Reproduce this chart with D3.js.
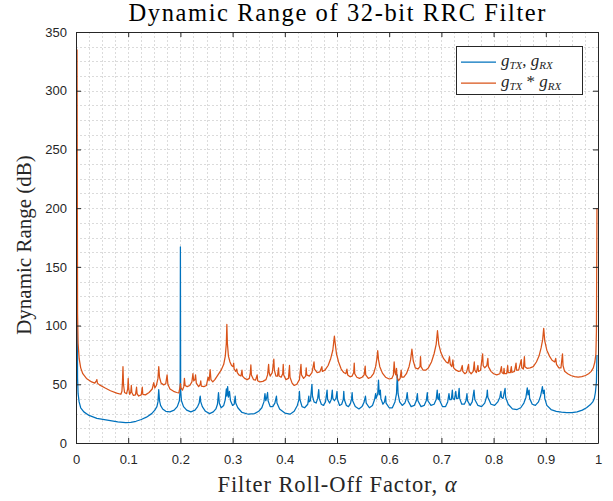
<!DOCTYPE html>
<html><head><meta charset="utf-8">
<script src="https://cdn.jsdelivr.net/npm/d3@7"></script>
<style>body{margin:0;background:#fff}</style>
</head><body><svg id="c" width="613" height="501"></svg>
<script>
const titleText = "Dynamic Range of 32-bit RRC Filter";
const xLabelText = "Filter Roll-Off Factor, ";
const yLabelText = "Dynamic Range (dB)";
const xTicks = [0,0.1,0.2,0.3,0.4,0.5,0.6,0.7,0.8,0.9,1];
const xTickLabels = ["0","0.1","0.2","0.3","0.4","0.5","0.6","0.7","0.8","0.9","1"];
const yTicks = [0,50,100,150,200,250,300,350];
const yTickLabels = ["0","50","100","150","200","250","300","350"];
const seriesColors = ["#0072BD","#D95319"];

// g_TX, g_RX  : [alpha, dB]
const blueData = [
[0.002,163],[0.003,55],[0.004,42],[0.006,35],[0.009,30],[0.015,26.5],[0.025,23.5],[0.04,21],[0.06,19.5],[0.08,18],[0.095,17.3],[0.105,17.5],[0.115,18.5],[0.125,20],[0.135,22],[0.145,25],[0.151,28],[0.155,31],[0.157,35],[0.1585,45.5],[0.16,36],[0.162,32],[0.166,29],[0.172,27],[0.18,26.5],[0.188,28],[0.194,31],[0.198,36],[0.1995,45],[0.2,167],[0.2005,45],[0.202,36],[0.206,31],[0.212,28],[0.22,26.5],[0.228,28],[0.233,31],[0.236,34],[0.2375,39],[0.238,40],[0.239,35],[0.242,31],[0.248,27],[0.256,25],[0.263,26.5],[0.268,29],[0.271,33],[0.273,43],[0.2745,34],[0.278,30],[0.283,32],[0.286,37],[0.288,46],[0.289,40],[0.2905,48],[0.292,39],[0.294,44],[0.296,36],[0.3,32],[0.303,33],[0.305,40],[0.306,34],[0.31,30],[0.318,26],[0.33,24.5],[0.342,25],[0.35,27],[0.356,30],[0.36,35],[0.362,42],[0.3635,36],[0.365,38],[0.367,43],[0.368,36],[0.372,31],[0.377,31],[0.381,34],[0.384,40],[0.385,34],[0.39,29],[0.4,25.5],[0.41,24.5],[0.418,27],[0.424,32],[0.427,37],[0.428,44],[0.429,37],[0.433,31],[0.438,30],[0.444,33],[0.446,40],[0.4465,35],[0.449,36],[0.452,50],[0.453,40],[0.456,35],[0.46,34],[0.463,38],[0.465,45.5],[0.466,38],[0.47,33],[0.474,32],[0.478,35],[0.481,45],[0.482,37],[0.486,34],[0.489,37],[0.491,45],[0.492,38],[0.495,36],[0.498,38],[0.5,44],[0.501,37],[0.505,32],[0.509,33],[0.512,37],[0.513,44],[0.514,37],[0.518,32],[0.522,31],[0.526,34],[0.528,38],[0.529,43],[0.53,36],[0.535,31],[0.542,29],[0.548,31],[0.552,35],[0.5545,40],[0.556,34],[0.562,30],[0.568,32],[0.572,37],[0.574,42],[0.575,38],[0.578,42],[0.5795,53.6],[0.581,41],[0.583,45],[0.584,38],[0.588,33],[0.591,35],[0.593,40],[0.594,34],[0.6,30],[0.606,30],[0.611,35],[0.614,42],[0.6155,58],[0.617,42],[0.62,35],[0.625,32],[0.63,34],[0.633,38],[0.6345,43],[0.636,36],[0.642,31],[0.648,32],[0.652,36],[0.654,42],[0.655,36],[0.661,31],[0.667,32],[0.671,36],[0.673,43],[0.674,36],[0.68,32],[0.686,33],[0.69,37],[0.692,45],[0.693,38],[0.695,37],[0.696,42],[0.697,36],[0.702,31],[0.708,31],[0.712,35],[0.7145,42],[0.716,37],[0.719,37],[0.721,45],[0.722,38],[0.725,37],[0.7275,44],[0.729,38],[0.732,38],[0.734,46.5],[0.735,38],[0.739,33],[0.744,33],[0.747,36],[0.749,42],[0.75,36],[0.755,32],[0.759,35],[0.7625,45],[0.764,37],[0.77,32],[0.777,31],[0.783,34],[0.787,40],[0.788,45],[0.789,39],[0.795,33],[0.802,32],[0.808,35],[0.812,39],[0.814,44],[0.815,39],[0.818,38],[0.822,46.5],[0.823,39],[0.828,33],[0.836,29],[0.845,28.5],[0.852,30],[0.858,34],[0.862,39],[0.8645,47],[0.866,41],[0.868,45],[0.869,38],[0.874,33],[0.88,32],[0.886,35],[0.89,40],[0.8935,48],[0.895,42],[0.897,45],[0.898,38],[0.902,32],[0.91,28.5],[0.92,27],[0.93,26.2],[0.94,25.8],[0.95,25.8],[0.96,26.5],[0.97,28],[0.978,30],[0.985,32.5],[0.99,35],[0.993,38],[0.995,43],[0.997,52],[0.998,75]
];

// g_TX * g_RX : [alpha, dB]
const orangeData = [
[0.002,335],[0.003,110],[0.004,85],[0.006,72],[0.009,64],[0.013,59],[0.02,55],[0.03,52],[0.036,51],[0.039,53],[0.04,54],[0.041,51],[0.045,49.5],[0.055,47],[0.066,44.5],[0.078,42.5],[0.086,41.5],[0.088,44],[0.089,52],[0.09,65],[0.091,50],[0.093,43],[0.097,42],[0.099,46],[0.1,55],[0.101,46],[0.103,41.5],[0.105,43.5],[0.106,49],[0.107,43],[0.11,40.5],[0.114,41],[0.116,47.5],[0.117,42],[0.12,40],[0.125,41],[0.127,47.5],[0.128,41.5],[0.133,41],[0.14,43],[0.146,46],[0.149,51.5],[0.151,47],[0.154,49],[0.157,55],[0.1585,65],[0.16,56],[0.163,51],[0.168,49.5],[0.172,50.5],[0.1745,58],[0.176,50],[0.18,46],[0.187,44],[0.193,43],[0.197,42.6],[0.199,47],[0.2,50.5],[0.201,47],[0.204,45],[0.2065,48],[0.2077,55],[0.209,49],[0.213,48],[0.218,49],[0.222,52],[0.224,59],[0.2255,53],[0.228,54],[0.229,58],[0.2305,51],[0.235,48],[0.238,50],[0.239,53],[0.24,48.5],[0.245,48],[0.25,49],[0.253,56],[0.255,53],[0.257,62.4],[0.2585,54],[0.262,52],[0.266,54],[0.272,58],[0.278,62],[0.283,67],[0.286,74],[0.288,85],[0.289,101],[0.29,85],[0.292,74],[0.295,69],[0.298,66],[0.301,65],[0.302,68],[0.303,63],[0.306,61],[0.308,63],[0.309,60],[0.312,58],[0.316,57],[0.318,62],[0.319,57],[0.323,55],[0.328,54],[0.332,55],[0.334,60],[0.335,66.5],[0.336,58],[0.34,54],[0.344,53.5],[0.347,58],[0.348,53],[0.352,52],[0.358,52.5],[0.364,54],[0.367,58],[0.369,67],[0.37,60],[0.372,57],[0.376,60],[0.379,71.4],[0.38,62],[0.383,57],[0.386,57],[0.388,64],[0.389,57],[0.393,56],[0.396,59],[0.397,67],[0.398,58],[0.402,54],[0.407,55],[0.409,66],[0.41,56],[0.414,51],[0.418,49],[0.423,50],[0.428,54],[0.431,67],[0.432,58],[0.436,55],[0.44,57],[0.441,64],[0.442,58],[0.447,57],[0.452,60],[0.456,69],[0.457,63],[0.462,60],[0.467,60.5],[0.471,65],[0.472,61],[0.477,62],[0.483,66],[0.488,72],[0.492,79],[0.4935,85],[0.495,91],[0.4965,85],[0.499,76],[0.503,69],[0.508,63],[0.513,60],[0.517,59],[0.519,63],[0.5205,58],[0.525,56.5],[0.529,57],[0.532,60],[0.533,68],[0.534,59],[0.538,56],[0.543,55],[0.548,56],[0.552,58],[0.554,65.5],[0.555,58],[0.56,55],[0.565,56],[0.57,59],[0.574,65],[0.5765,72],[0.578,78.6],[0.5795,71],[0.582,65],[0.587,59.5],[0.593,56],[0.6,54.5],[0.605,55],[0.608,58],[0.6095,69],[0.611,60],[0.6125,58],[0.614,63.6],[0.615,56],[0.618,53],[0.621,55],[0.623,62],[0.624,56],[0.628,56],[0.633,59],[0.638,65],[0.641,71],[0.6435,80],[0.646,70],[0.65,64],[0.655,63],[0.659,65],[0.66,73.5],[0.661,65],[0.665,62],[0.67,62],[0.675,64],[0.681,69],[0.686,76],[0.69,84],[0.6925,95.6],[0.695,84],[0.699,77],[0.704,72],[0.709,69],[0.713,68],[0.7155,73.5],[0.717,67],[0.72,65],[0.722,70.7],[0.7235,64],[0.728,62],[0.733,61],[0.737,61.5],[0.74,66],[0.741,61],[0.745,59],[0.748,60],[0.752,67],[0.753,61],[0.757,59],[0.761,61],[0.763,69],[0.764,62],[0.767,60],[0.77,66],[0.771,61],[0.775,62],[0.779,76],[0.78,66],[0.783,64],[0.787,66],[0.789,72],[0.79,65],[0.795,61],[0.8,59],[0.806,58],[0.812,59],[0.815,65],[0.816,60],[0.819,59],[0.82,63.6],[0.821,59],[0.825,59],[0.827,66],[0.828,60],[0.832,60],[0.834,65],[0.835,60],[0.84,61],[0.843,68],[0.844,62],[0.848,62],[0.853,71],[0.854,64],[0.857,63],[0.859,73.5],[0.86,65],[0.864,63.6],[0.87,64],[0.876,65],[0.882,69],[0.887,74],[0.891,81],[0.894,88],[0.896,97.6],[0.898,87],[0.902,79],[0.907,74],[0.912,70.5],[0.917,69],[0.919,72],[0.9205,67],[0.925,64],[0.929,64],[0.932,76],[0.933,66],[0.936,61],[0.942,59],[0.948,57.5],[0.955,56.5],[0.962,56],[0.969,56.5],[0.976,57.5],[0.982,59],[0.987,61],[0.991,64],[0.994,69],[0.996,76],[0.997,95],[0.998,200]
];

const svg = d3.select("#c");
svg.append("rect").attr("width",613).attr("height",501).attr("fill","#fff");
const L=76, R=598, T=32, B=443;
const x = d3.scaleLinear().domain([0,1]).range([L,R]);
const y = d3.scaleLinear().domain([0,350]).range([B,T]);
const axisCol = "#262626";

// grid (major + minor, dotted)
const gx = d3.range(0,41).map(i=>i/40);
const gy = d3.range(0,29).map(i=>i*12.5);
const grid = svg.append("g").attr("stroke","#d2d2d2").attr("stroke-width",0.8).attr("stroke-dasharray","2,2");
grid.selectAll("line.gx").data(gx).join("line").attr("x1",d=>Math.round(x(d))+0.5).attr("x2",d=>Math.round(x(d))+0.5).attr("y1",T).attr("y2",B);
grid.selectAll("line.gy").data(gy).join("line").attr("y1",d=>Math.round(y(d))+0.5).attr("y2",d=>Math.round(y(d))+0.5).attr("x1",L).attr("x2",R);

// data lines
svg.append("clipPath").attr("id","clip").append("rect").attr("x",L).attr("y",T-1).attr("width",R-L).attr("height",B-T+2);
const line = d3.line().x(d=>x(d[0])).y(d=>y(d[1]));
const plot = svg.append("g").attr("clip-path","url(#clip)");
[blueData, orangeData].forEach((s,i)=>{
  plot.append("path").datum(s).attr("d",line).attr("fill","none")
    .attr("stroke",seriesColors[i]).attr("stroke-width",1.25).attr("stroke-linejoin","round");
});

// axes (ticks inward, box)
const fontSans = "'Liberation Sans', Arial, Helvetica, sans-serif";
const fontSerif = "'Liberation Serif', 'Times New Roman', serif";
const ax = svg.append("g");
ax.append("g").attr("transform",`translate(0,${B})`).call(d3.axisBottom(x).tickValues(xTicks).tickFormat((d,i)=>xTickLabels[i]).tickSizeInner(-5).tickSizeOuter(0).tickPadding(12));
ax.append("g").attr("transform",`translate(0,${T})`).call(d3.axisTop(x).tickValues(xTicks).tickFormat("").tickSizeInner(-5).tickSizeOuter(0));
ax.append("g").attr("transform",`translate(${L},0)`).call(d3.axisLeft(y).tickValues(yTicks).tickFormat((d,i)=>yTickLabels[i]).tickSizeInner(-5).tickSizeOuter(0).tickPadding(9));
ax.append("g").attr("transform",`translate(${R},0)`).call(d3.axisRight(y).tickValues(yTicks).tickFormat("").tickSizeInner(-5).tickSizeOuter(0));
ax.selectAll("path.domain").attr("stroke",axisCol).attr("stroke-width",1);
ax.selectAll(".tick line").attr("stroke",axisCol).attr("stroke-width",1);
ax.selectAll(".tick text").attr("fill",axisCol).style("font-family",fontSans).style("font-size","13px");

// title & labels
svg.append("text").attr("x",337).attr("y",21).attr("text-anchor","middle")
  .style("font-family",fontSerif).style("font-size","24.5px").attr("fill","#000")
  .attr("textLength",417).attr("lengthAdjust","spacing").text(titleText);
const xl = svg.append("text").attr("x",337).attr("y",492).attr("text-anchor","middle")
  .style("font-family",fontSerif).style("font-size","22.5px").attr("fill","#262626")
  .attr("textLength",239).attr("lengthAdjust","spacing");
xl.append("tspan").text(xLabelText);
xl.append("tspan").style("font-style","italic").text("α");
svg.append("text").attr("transform","translate(31,245) rotate(-90)").attr("text-anchor","middle")
  .style("font-family",fontSerif).style("font-size","21px").attr("fill","#262626").text(yLabelText);

// legend
const lg = svg.append("g");
lg.append("rect").attr("x",456.5).attr("y",46.5).attr("width",126).attr("height",48).attr("fill","#fff").attr("stroke",axisCol).attr("stroke-width",1);
const entries = [["TX",", ","RX"],["TX"," * ","RX"]];
entries.forEach((e,i)=>{
  const yy = 62 + i*21;
  lg.append("line").attr("x1",461).attr("x2",496).attr("y1",yy).attr("y2",yy).attr("stroke",seriesColors[i]).attr("stroke-width",1.25);
  const t = lg.append("text").attr("x",501).attr("y",yy+4).style("font-family",fontSerif).style("font-size","17px").attr("fill","#262626");
  t.append("tspan").style("font-style","italic").text("g");
  t.append("tspan").style("font-style","italic").style("font-size","11px").attr("dy",3).text(e[0]);
  t.append("tspan").attr("dy",-3).text(e[1]);
  t.append("tspan").style("font-style","italic").text("g");
  t.append("tspan").style("font-style","italic").style("font-size","11px").attr("dy",3).text(e[2]);
});
</script>
</body></html>
